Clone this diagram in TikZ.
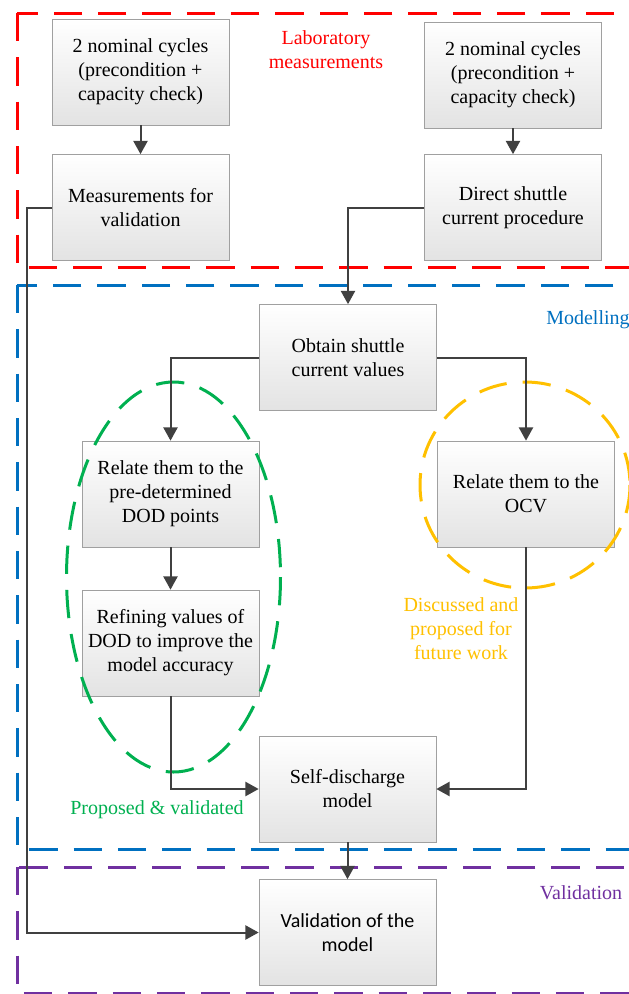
\documentclass[tikz,border=0pt]{standalone}
\usepackage{fontspec}
\setmainfont{Liberation Serif}
\newfontfamily\calibrifont{Carlito}
\usetikzlibrary{arrows.meta,shapes.geometric}
\definecolor{frred}{RGB}{255,0,0}
\definecolor{frblue}{RGB}{0,112,192}
\definecolor{frgreen}{RGB}{0,176,80}
\definecolor{frorange}{RGB}{255,192,0}
\definecolor{frpurple}{RGB}{112,48,160}
\definecolor{linegray}{RGB}{64,64,64}
\definecolor{boxedge}{RGB}{160,160,160}

\begin{document}
\begin{tikzpicture}[x=0.6pt,y=-0.6pt,
  stage/.style={draw=boxedge, top color=white, bottom color=black!11, minimum width=106.2pt, minimum height=63.6pt, align=center, inner sep=2pt, font=\rmfamily\fontsize{12}{14.4}\selectfont},
  flow/.style={draw=linegray, line width=1.2pt, -{Triangle[length=8pt,width=8.5pt]}},
  frame/.style={line width=1.8pt, dash pattern=on 17pt off 9.6pt},
  note/.style={align=center, font=\rmfamily\fontsize{12}{14.4}\selectfont}]
\useasboundingbox (0,0) rectangle (629,994);
\clip (0,0) rectangle (629,994);
% Stage frames
\draw[frame, frred] (17,13) rectangle (660,267);
\draw[frame, frblue] (17,285) rectangle (660,849);
\draw[frame, frpurple] (17,867) rectangle (660,993);
\node[note, text=frred] (labtxt) at (326,50) {Laboratory\\measurements};
\node[note, text=frblue] (modtxt) at (588,320) {Modelling};
\node[note, text=frpurple] (valtxt) at (581,893) {Validation};
% Boxes
\node[stage] (cycA) at (140.5,72) {2 nominal cycles\\(precondition +\\capacity check)};
\node[stage] (meas) at (140.5,207.5) {Measurements for\\validation};
\node[stage] (cycB) at (513,75) {2 nominal cycles\\(precondition +\\capacity check)};
\node[stage] (direct) at (513,207.5) {Direct shuttle\\current procedure};
\node[stage] (obtain) at (348,357.5) {Obtain shuttle\\current values};
\node[stage] (dod) at (170.5,494) {Relate them to the\\pre-determined\\DOD points};
\node[stage] (refine) at (170.5,643) {Refining values of\\DOD to improve the\\model accuracy};
\node[stage] (ocv) at (526,494) {Relate them to the\\OCV};
\node[stage] (selfdis) at (347.5,789) {Self-discharge\\model};
\node[stage, font=\calibrifont\fontsize{12}{14.4}\selectfont] (valid) at (347.5,932.5) {Validation of the\\model};
% Proposal groups
\draw[frame, frgreen] (173.5,577) ellipse [x radius=107, y radius=195];
\draw[frame, frorange] (525,485) ellipse [x radius=105, y radius=103];
\node[note, text=frgreen] (proptxt) at (157,810) {Proposed \& validated};
\node[note, text=frorange] (futtxt) at (461,629) {Discussed and\\proposed for\\future work};
% Connectors
\draw[flow] (cycA) -- (meas);
\draw[flow] (cycB) -- (direct);
\draw[flow] (meas.west) -- ++(-25,0) |- (valid.west);
\draw[flow] (direct.west) -| (obtain.north);
\draw[flow] (obtain.east) -| (ocv.north);
\draw[flow] (obtain.west) -| (dod.north);
\draw[flow] (dod) -- (refine);
\draw[flow] (refine.south) |- (selfdis.west);
\draw[flow] (ocv.south) |- (selfdis.east);
\draw[flow] (selfdis) -- (valid);
\end{tikzpicture}
\end{document}
